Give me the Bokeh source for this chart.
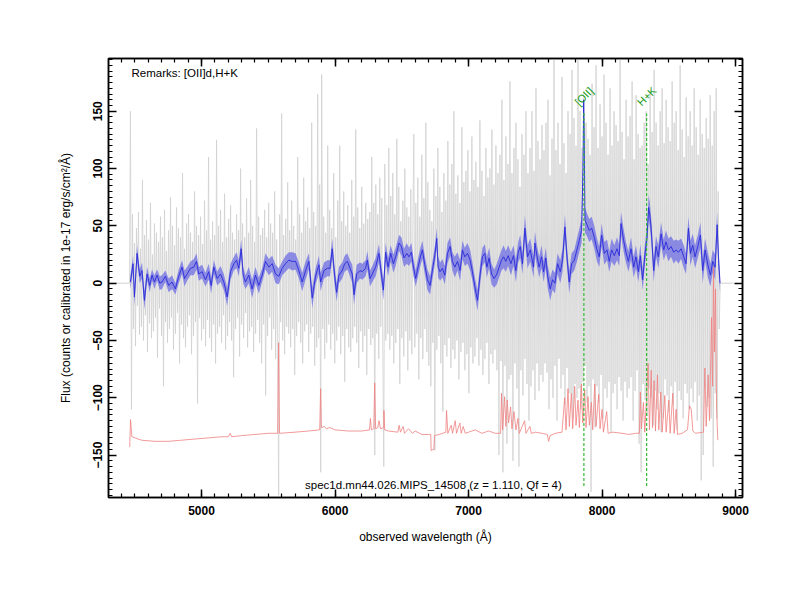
import math
from bokeh.plotting import figure
from bokeh.models import LinearAxis, SingleIntervalTicker, Range1d, Label
from bokeh.core.properties import value
from bokeh.embed import file_html
from bokeh.resources import INLINE

# ---------------- data ----------------
X_RANGE = (4303, 9052)
Y_RANGE = (-187, 196)
X_TICK_STEP = 1000
Y_TICK_STEP = 50

# raw (noisy) spectrum, sampled every GRAY_STEP Angstrom from GRAY_START
GRAY_START = 4460
GRAY_STEP = 7.5
gray_flux = [
    0, 150, -110, 60, -40, 35, -55, 48, -20, 62, -45, 30, -38, 90, -50, 42, -28, 55, -60, 38,
    -35, 70, -48, 25, -42, 52, -30, 44, -65, 36, -22, 58, -46, 40, -90, 64, -34, 28, -52, 46,
    -40, 75, -30, 50, -58, 33, -44, 66, -26, 48, -70, 40, -36, 96, -48, 30, -56, 52, -38, 60,
    -28, 44, -62, 36, -46, 80, -34, 50, -105, 42, -30, 58, -50, 34, -40, 72, -55, 46, -32, 110,
    -48, 38, -60, 54, -36, 42, -70, 125, -44, 50, -38, 64, -52, 36, -28, 78, -58, 40, -46, 56,
    -34, 68, -50, 44, -82, 38, -40, 60, -30, 46, -64, 100, -36, 52, -48, 40, -26, 74, -56, 44,
    -42, 90, -38, 50, -60, 36, -44, 135, -32, 58, -52, 42, -70, 48, -36, 64, -98, 40, -46, 70,
    -30, 52, -58, 44, -40, 80, -66, 38, -48, -185, 60, -34, 148, -50, 42, -62, 56, -38, 88, -44,
    46, -56, 72, -40, 50, -80, 38, -46, 110, -34, 60, -52, 44, -70, 92, -42, 54, -36, 66, -60,
    48, -44, 140, -38, 62, -72, 50, -56, 165, -48, 86, -165, 182, -40, 58, -66, 44, -52, 120, -36,
    64, -58, 48, -44, 96, -70, 40, -50, 72, -38, 120, -62, 54, -46, 80, -86, 50, -40, 68, -56,
    44, -60, 90, -48, 58, -38, 134, -52, 66, -74, 48, -42, 84, -60, 52, -46, 70, -80, 56, -40,
    62, -54, 110, -48, 70, -150, 86, -44, 60, -66, 92, -38, 74, -56, -160, 104, -50, 68, -44, 118,
    -58, 76, -46, 96, -70, 60, -52, 126, -40, 84, -88, 54, -48, 72, -64, 100, -42, 66, -76, 58,
    -50, 82, -62, 48, 130, -56, 70, -44, 92, -84, 58, -48, 112, -66, 74, -40, 140, -60, 88, -72,
    64, -90, 54, -52, 100, -146, 76, -58, 118, -46, 84, -70, 62, -112, 96, -54, 72, -64, 124, -48,
    86, -74, 104, -58, 150, -66, 78, -50, 94, -84, 70, -60, 136, -52, 88, -76, 98, -62, 116, -96,
    80, -56, 128, -70, 90, -64, 106, -48, 84, -72, 142, -58, 98, -80, 76, -66, 118, -52, 92, -88,
    100, -62, 134, -70, 86, -58, 120, -76, 96, -150, 112, -68, 160, -165, 90, -72, 128, -140, 104, -84,
    176, -80, 96, -155, 118, -70, 140, -92, 108, -160, 84, -76, 130, -98, 112, -66, 150, -88, 96, -120,
    118, -90, 150, -76, 98, -102, 170, -70, 124, -94, 108, -80, 138, -86, 116, -70, 140, -78, 160, -110,
    94, -84, 126, -100, 210, -72, 116, -120, 140, -66, 104, -92, 180, -80, 122, -106, 96, -74, 150, -96,
    130, -96, 186, -118, 144, -88, 120, -100, 205, -92, 150, -110, 118, -86, 160, -72, 140, -104, 126, -90,
    112, -182, 174, -84, 136, -126, 190, -90, 118, -104, 156, -80, 128, -118, 182, -92, 140, -100, 112, -86,
    170, -130, 120, -96, 150, -88, 138, -110, 124, -82, 196, -94, 132, -120, 108, -86, 160, -100, 128, -92,
    146, -82, 176, -120, 108, -94, 164, -76, 130, -140, 118, -165, 120, -88, 140, -102, 150, -116, 104, -92,
    168, -100, 132, -124, 186, -94, 140, -110, 120, -96, 150, -130, 170, -118, 122, -84, 160, -98, 136, -112,
    124, -90, 176, -106, 140, -86, 150, -128, 116, -94, 190, -102, 134, -118, 110, -88, 162, -96, 128, -110,
    150, -92, 120, -104, 170, -86, 136, -120, 112, -98, 160, -172, 130, -150, 118, -92, 144, -108, 126, -100,
    164, -118, 120, -160, 150, -96, 170, -118, 80, -40, 0,
]
gray_pad_left_wave = [4320, 4460]
gray_pad_left_flux = [0, 0]
gray_pad_right_wave = [8885, 8985]
gray_pad_right_flux = [0, 0]

# smoothed spectrum and its 1-sigma band
blue_wave = [
    4467, 4487, 4497, 4517, 4537, 4554, 4572, 4592, 4612, 4629,
    4647, 4667, 4687, 4704, 4729, 4754, 4779, 4804, 4829, 4854,
    4872, 4892, 4917, 4942, 4962, 4979, 5004, 5029, 5054, 5072,
    5092, 5117, 5142, 5167, 5192, 5217, 5242, 5262, 5279, 5297,
    5312, 5329, 5354, 5379, 5404, 5429, 5454, 5479, 5504, 5529,
    5554, 5579, 5604, 5629, 5654, 5679, 5704, 5729, 5754, 5779,
    5804, 5829, 5854, 5879,
    5892, 5917, 5942, 5962, 5979, 5997, 6012, 6029, 6054, 6072,
    6092, 6112, 6129, 6142, 6162, 6187, 6204, 6229, 6242, 6262,
    6279, 6304, 6329, 6347, 6362, 6379, 6397, 6417, 6437, 6454,
    6479, 6497, 6517, 6537, 6554, 6572, 6587, 6604, 6622, 6637,
    6654, 6672, 6692, 6712, 6729, 6747, 6762, 6772, 6787, 6804,
    6822, 6842, 6862, 6879, 6897, 6917, 6937, 6954, 6972, 6992,
    7012, 7029, 7047, 7067, 7087, 7104, 7122, 7137, 7154, 7172,
    7192, 7212, 7229, 7247, 7262, 7279, 7297, 7317, 7337, 7354,
    7372, 7387, 7404, 7422, 7442, 7462,
    7487, 7497, 7512, 7529, 7547, 7562, 7579, 7592, 7612, 7629,
    7647, 7667, 7687, 7704, 7722, 7737, 7754, 7772, 7792, 7812,
    7829, 7847, 7857, 7862, 7867, 7872, 7887, 7904, 7922, 7942,
    7962, 7979, 7997, 8017, 8037, 8054, 8072, 8092, 8112, 8129,
    8142, 8162, 8179, 8197, 8217, 8237, 8254, 8272, 8287, 8304,
    8322, 8337, 8349, 8357, 8367, 8387, 8404, 8422, 8442, 8462,
    8479, 8497, 8517, 8537, 8554, 8572, 8592, 8612, 8629, 8647,
    8662, 8679, 8697, 8717, 8737, 8754, 8772, 8792, 8812, 8829,
    8847, 8862, 8874, 8884,
]
blue_flux = [
    1, 17, -12, 26, 6, 11, -15, 8, -2, 7,
    1, 7, 0, 1, 6, -2, 1, -5, 6, 14,
    4, 8, 13, 14, 19, 8, 10, 3, 10, -2,
    14, 4, 8, 1, -12, 10, 17, 20, 13, 30,
    7, 1, 7, -5, 7, -2, 7, 19, 14, 17,
    8, 6, 13, 17, 20, 19, 19, 11, 1, 11,
    19, -13, 6, 16,
    1, 11, 13, 13, 30, 6, -8, 7, 11, 17,
    19, 13, 8, -10, 8, 11, 10, 13, 20, 4,
    8, 14, 26, 8, -6, 27, 14, 26, 17, 23,
    35, 32, 22, 26, 23, 27, 14, 4, 14, 22,
    29, 16, 3, -2, 11, 24, 39, 14, 10, 13,
    7, 26, 32, 19, 14, 19, 11, 29, 23, 26,
    20, 10, -3, -15, 8, 23, 26, 14, 22, 8,
    4, 8, 14, 20, 23, 19, 24, 17, 24, 11,
    27, 32, 17, 48, 23, 29,
    14, 35, 24, 14, 23, 10, 22, 6, -5, 3,
    0, 17, 10, 20, 49, 23, 1, 17, 20, 29,
    37, 46, 100, 160, 120, 55, 51, 46, 48, 40,
    29, 23, 42, 26, 29, 19, 29, 24, 30, 24,
    52, 37, 27, 19, 30, 14, 23, 10, 24, 3,
    26, 40, 66, 60, 49, 11, 32, 23, 43, 29,
    36, 29, 32, 27, 29, 27, 30, 23, 17, 48,
    26, 33, 23, 32, 42, 11, 29, 16, 7, 19,
    14, 51, 17, 0,
]
blue_err = [
    6, 7, 8, 7, 6, 7, 8, 6, 6, 5,
    6, 5, 6, 6, 5, 6, 6, 5, 6, 6,
    7, 6, 6, 7, 7, 6, 6, 6, 7, 7,
    6, 6, 7, 7, 8, 7, 6, 7, 7, 8,
    7, 6, 7, 8, 7, 7, 6, 7, 7, 7,
    8, 7, 6, 7, 7, 8, 7, 7, 8, 8,
    7, 9, 7, 8,
    8, 7, 7, 7, 9, 8, 8, 7, 7, 7,
    7, 7, 8, 9, 8, 7, 7, 7, 8, 7,
    7, 8, 8, 8, 9, 8, 8, 7, 8, 8,
    7, 8, 8, 9, 8, 8, 8, 7, 8, 8,
    8, 8, 9, 8, 8, 8, 9, 9, 8, 8,
    8, 9, 8, 8, 9, 8, 9, 8, 8, 9,
    9, 8, 8, 9, 9, 8, 8, 9, 9, 9,
    8, 9, 9, 9, 10, 9, 9, 10, 9, 10,
    9, 10, 9, 11, 10, 10,
    9, 10, 9, 9, 10, 9, 9, 10, 10, 9,
    9, 9, 10, 10, 11, 9, 10, 9, 9, 10,
    10, 11, 12, 12, 12, 11, 10, 10, 10, 10,
    10, 9, 10, 10, 9, 9, 10, 9, 10, 9,
    10, 10, 9, 9, 10, 9, 10, 9, 10, 9,
    9, 10, 11, 11, 10, 10, 9, 10, 10, 9,
    10, 10, 9, 10, 9, 10, 9, 10, 9, 10,
    11, 10, 10, 10, 11, 11, 10, 11, 10, 10,
    11, 11, 10, 8,
]

# sky / error spectrum (offset below the data)
red_wave = [
    4462, 4468, 4478, 4550, 4650, 4750, 4850, 4950, 5050, 5150,
    5200, 5215, 5225, 5300, 5400, 5500, 5570, 5577, 5584, 5700,
    5800, 5885, 5892, 5898, 5920, 5935, 5960, 6000, 6100, 6200,
    6258, 6265, 6272, 6290, 6297, 6304, 6320, 6330, 6340, 6365,
    6366, 6372, 6400, 6470, 6480, 6490, 6510, 6520, 6550, 6580,
    6600, 6650, 6700, 6717, 6720, 6740, 6745, 6780, 6830, 6835,
    6845, 6870, 6880, 6900, 6910, 6935, 6945, 6960, 6975, 7000,
    7050, 7100, 7150, 7200, 7240, 7247, 7255, 7270, 7280, 7290,
    7300, 7315, 7325, 7340, 7355, 7370, 7380, 7420, 7430, 7460,
    7470, 7500, 7550, 7590, 7600, 7610, 7650, 7700, 7720, 7730,
    7745, 7755, 7770, 7780, 7795, 7805, 7820, 7830, 7845, 7855,
    7870, 7880, 7895, 7905, 7920, 7930, 7945, 7955, 7975, 7985,
    8000, 8010, 8035, 8045, 8080, 8150, 8200, 8250, 8280, 8287,
    8295, 8310, 8320, 8345, 8355, 8368, 8378, 8390, 8400, 8415,
    8425, 8440, 8450, 8470, 8480, 8500, 8510, 8530, 8540, 8555,
    8565, 8600, 8640, 8655, 8668, 8680, 8700, 8760, 8770, 8780,
    8795, 8805, 8820, 8828, 8835, 8842, 8850, 8858, 8867,
]
red_flux = [
    -143, -119, -134, -137, -138, -138, -137, -136, -135, -134,
    -134, -131, -134, -133, -132, -131, -131, -52, -131, -130,
    -129, -128, -92, -126, -125, -127, -126, -128, -129, -129,
    -128, -118, -128, -127, -87, -127, -126, -120, -127, -126,
    -111, -128, -129, -130, -124, -130, -125, -131, -127, -131,
    -129, -132, -132, -132, -146, -145, -133, -132, -130, -111,
    -131, -124, -131, -120, -131, -122, -131, -125, -131, -130,
    -128, -131, -129, -131, -131, -96, -128, -99, -125, -102,
    -122, -108, -127, -112, -128, -118, -131, -120, -131, -125,
    -131, -130, -131, -132, -138, -133, -131, -130, -100, -128,
    -92, -125, -96, -127, -90, -124, -102, -126, -88, -122,
    -93, -126, -99, -124, -104, -128, -88, -125, -97, -127,
    -110, -130, -112, -131, -130, -131, -132, -131, -131, -95,
    -127, -104, -130, -70, -128, -76, -126, -85, -129, -80,
    -128, -95, -130, -98, -130, -102, -131, -96, -131, -110,
    -132, -131, -128, -107, -110, -129, -131, -130, -74, -125,
    -80, -120, -30, -90, 14, -60, -5, -110, -137,
]

# identified lines (observed wavelength at z = 1.110)
line_names = ["[OII]", "H+K"]
line_waves = [7864, 8334]
line_top = [150, 148]
line_bottom = [-177, -177]
line_label_y = [163, 163]

remark_text = "Remarks: [OII]d,H+K"
remark_pos = (4475, 183)
caption_text = "spec1d.mn44.026.MIPS_14508 (z = 1.110, Qf = 4)"
caption_pos = (6737, -176)

# ---------------- figure ----------------
FONT = "Liberation Sans"

p = figure(
    x_range=Range1d(*X_RANGE), y_range=Range1d(*Y_RANGE),
    frame_width=634, frame_height=439,
    min_border_left=108, min_border_right=42, min_border_top=58, min_border_bottom=87,
    output_backend="svg", toolbar_location=None,
)
p.xgrid.visible = False
p.ygrid.visible = False
p.outline_line_color = "black"
p.outline_line_width = 1.5
p.background_fill_color = "white"
p.border_fill_color = "white"

xt = SingleIntervalTicker(interval=X_TICK_STEP, num_minor_ticks=10)
yt = SingleIntervalTicker(interval=Y_TICK_STEP, num_minor_ticks=10)


def style_axis(ax, show_labels=True):
    ax.axis_line_color = "black"
    ax.axis_line_width = 1.5
    ax.major_tick_in = 8
    ax.major_tick_out = 0
    ax.minor_tick_in = 4
    ax.minor_tick_out = 0
    ax.major_tick_line_color = "black"
    ax.minor_tick_line_color = "black"
    ax.major_tick_line_width = 1.5
    ax.minor_tick_line_width = 1.2
    ax.major_label_text_font = FONT
    ax.major_label_text_font_style = "bold"
    ax.major_label_text_font_size = "12px"
    ax.major_label_text_color = "black"
    if not show_labels:
        ax.major_label_text_color = None
        ax.major_label_text_font_size = "1px"
        ax.major_label_standoff = 0


xax = p.xaxis[0]
yax = p.yaxis[0]
xax.ticker = xt
yax.ticker = yt
style_axis(xax)
style_axis(yax)
xax.major_label_standoff = 8
yax.major_label_standoff = 6
yax.major_label_orientation = "vertical"
xax.axis_label = "observed wavelength (\u00c5)"
yax.axis_label = "Flux (counts or calibrated in 1e-17 erg/s/cm\u00b2/\u00c5)"
for ax in (xax, yax):
    ax.axis_label_text_font = FONT
    ax.axis_label_text_font_style = "normal"
    ax.axis_label_text_font_size = "12px"
    ax.axis_label_text_color = "black"
xax.axis_label_standoff = 12
yax.axis_label_standoff = 18

top_ax = LinearAxis(ticker=SingleIntervalTicker(interval=X_TICK_STEP, num_minor_ticks=10))
right_ax = LinearAxis(ticker=SingleIntervalTicker(interval=Y_TICK_STEP, num_minor_ticks=10))
style_axis(top_ax, show_labels=False)
style_axis(right_ax, show_labels=False)
p.add_layout(top_ax, "above")
p.add_layout(right_ax, "right")

# ---------------- glyphs ----------------
gray_wave = [GRAY_START + GRAY_STEP * i for i in range(len(gray_flux))]
GRAY = "#d0d0d0"
p.line(gray_pad_left_wave, gray_pad_left_flux, line_color=GRAY, line_width=1)
p.line(gray_pad_right_wave, gray_pad_right_flux, line_color=GRAY, line_width=1)
p.line(gray_wave, gray_flux, line_color=GRAY, line_width=0.8)

n = min(len(blue_wave), len(blue_flux), len(blue_err))
bw = blue_wave[:n]
lo = [f - e for f, e in zip(blue_flux[:n], blue_err[:n])]
hi = [f + e for f, e in zip(blue_flux[:n], blue_err[:n])]
p.varea(x=bw, y1=lo, y2=hi, fill_color="#6e6ee4", fill_alpha=0.75)
p.line(bw, blue_flux[:n], line_color="#2a2ad8", line_width=0.9)

p.line(red_wave, red_flux, line_color="#f08080", line_width=0.8)

p.segment(x0=line_waves, y0=line_bottom, x1=line_waves, y1=line_top,
          line_color="#33bb33", line_width=1.2, line_dash="3 2")
p.text(x=line_waves, y=line_label_y, text=line_names, angle=math.pi / 4,
       text_align="center", text_baseline="middle", text_color="#129a12",
       text_font=value(FONT), text_font_size="11px")

p.add_layout(Label(x=remark_pos[0], y=remark_pos[1], text=remark_text,
                   text_font=FONT, text_font_size="11.5px", text_color="black",
                   text_align="left", text_baseline="middle"))
p.add_layout(Label(x=caption_pos[0], y=caption_pos[1], text=caption_text,
                   text_font=FONT, text_font_size="11.5px", text_color="black",
                   text_align="center", text_baseline="middle"))

open("out.html", "w").write(file_html(p, INLINE))
